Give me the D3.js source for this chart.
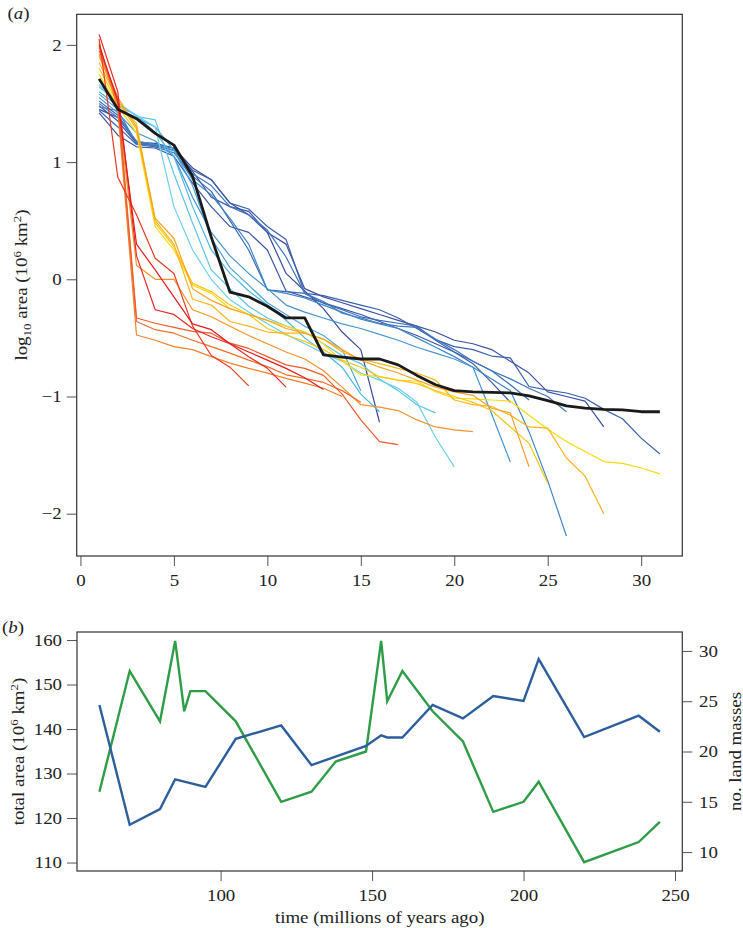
<!DOCTYPE html>
<html><head><meta charset="utf-8">
<script src="https://cdn.jsdelivr.net/npm/d3@7"></script>
<style>body{margin:0;background:#fff}</style>
</head><body>
<svg id="c" width="743" height="928" style="background:#fff"></svg>
<script>
// ---------- Panel (a): log10 area by rank, one line per time slice (Mya) ----------
const r60  = [1.45,1.38,1.17,1.16,1.12,0.95,0.85,0.65,0.55,0.40,0.05,-0.10,-0.25,-0.45,-0.60,-1.22];
const r70  = [1.48,1.35,1.16,1.14,1.10,0.92,0.70,0.62,0.58,0.40,0.30,-0.08,-0.15,-0.20,-0.25,-0.30,-0.35,-0.40,-0.45,-0.52,-0.55,-0.60,-0.70,-0.80,-0.96,-1.00,-1.04,-1.26];
const r80  = [1.42,1.23,1.13,1.12,1.05,0.82,0.62,0.45,0.40,0.25,-0.10,-0.15,-0.20,-0.25,-0.30,-0.36,-0.42,-0.48,-0.55,-0.62,-0.72,-0.88,-1.05];
const r85  = [1.52,1.40,1.17,1.15,1.12,0.93,0.85,0.65,0.60,0.45,0.34,-0.12,-0.14,-0.18,-0.22,-0.26,-0.33,-0.42,-0.515,-0.575,-0.60,-0.655,-0.67,-0.915,-0.945,-0.97,-1.015,-1.11,-1.19,-1.355,-1.49];
const r88  = [1.44,1.30,1.15,1.13,1.08,0.88,0.75,0.50,0.25,-0.09,-0.105,-0.12,-0.205,-0.26,-0.32,-0.35,-0.375,-0.40,-0.52,-0.62,-0.70,-0.78,-0.90,-1.03];
const r90  = [1.47,1.44,1.16,1.14,1.12,0.90,0.80,0.62,0.55,0.42,0.19,-0.12,-0.19,-0.29,-0.33,-0.375,-0.40,-0.41,-0.51,-0.60,-0.70,-0.78,-0.85,-0.93,-1.00,-1.13];
const r95  = [1.50,1.38,1.18,1.15,1.10,0.85,0.72,0.52,0.30,-0.09,-0.12,-0.16,-0.22,-0.28,-0.34,-0.38,-0.42,-0.50,-0.58,-0.66,-0.75,-0.85,-0.95,-1.30,-1.72,-2.19];
const r105 = [1.55,1.42,1.25,1.18,1.05,0.70,0.40,0.20,0.05,-0.08,-0.22,-0.28,-0.33,-0.38,-0.42,-0.47,-0.52,-0.58,-0.63,-0.68,-0.75,-1.15,-1.56];
const r120 = [1.58,1.45,1.38,1.30,1.10,0.80,0.35,0.10,-0.05,-0.20,-0.30,-0.40,-0.48,-0.60,-0.95];
const r130 = [1.60,1.48,1.40,1.25,1.05,0.62,0.25,0.05,-0.10,-0.22,-0.35,-0.50,-0.62,-0.75,-0.98,-1.13];
const r138 = [1.64,1.51,1.39,1.36,0.90,0.48,0.08,-0.08,-0.23,-0.33,-0.40,-0.45,-0.55,-0.65,-0.72,-0.85,-0.95,-1.07,-1.14];
const r148 = [1.66,1.50,1.40,1.30,0.62,0.25,0.00,-0.175,-0.28,-0.38,-0.47,-0.55,-0.63,-0.70,-0.80,-0.86,-0.93,-1.05,-1.35,-1.60];
const r153 = [1.75,1.48,1.25,0.45,0.25,-0.05,-0.12,-0.25,-0.30,-0.35,-0.40,-0.45,-0.55,-0.70,-0.815,-0.83,-0.86,-0.87,-0.96,-1.015,-1.02,-1.03,-1.04,-1.16,-1.28,-1.385,-1.47,-1.555,-1.57,-1.61,-1.66];
const r155 = [1.80,1.50,1.33,0.48,0.28,-0.035,-0.105,-0.22,-0.30,-0.42,-0.475,-0.53,-0.60,-0.69,-0.75,-0.83,-0.86,-0.89,-0.95,-1.00,-1.05,-1.12,-1.26,-1.40,-1.74];
const r160 = [1.85,1.52,1.28,0.50,0.30,-0.17,-0.22,-0.36,-0.40,-0.45,-0.46,-0.46,-0.51,-0.62,-0.68,-0.72,-0.76,-0.80,-0.86,-1.03,-1.07,-1.085,-1.16,-1.26,-1.27,-1.525,-1.68,-2.00];
const r170 = [1.90,1.55,1.30,0.52,0.35,-0.08,-0.18,-0.25,-0.30,-0.35,-0.42,-0.46,-0.51,-0.60,-0.69,-0.75,-0.80,-0.86,-0.92,-0.96,-0.99,-1.10,-1.14,-1.60];
const r180 = [1.92,1.50,0.12,0.00,0.00,-0.26,-0.32,-0.40,-0.48,-0.55,-0.62,-0.68,-0.78,-0.92,-1.07,-1.09,-1.12,-1.20,-1.26,-1.285,-1.30];
const r190 = [2.02,1.45,-0.475,-0.52,-0.575,-0.60,-0.66,-0.715,-0.76,-0.80,-0.845,-0.886,-0.93,-1.00];
const r200 = [1.98,1.50,-0.36,-0.43,-0.46,-0.52,-0.575,-0.63,-0.69,-0.745,-0.815,-0.845,-0.88,-0.95,-1.05];
const r205 = [1.95,1.55,-0.33,-0.375,-0.41,-0.445,-0.46,-0.545,-0.59,-0.66,-0.73,-0.76,-0.82,-0.98,-1.20,-1.385,-1.41];
const r220 = [2.05,0.87,0.55,0.18,0.05,-0.40,-0.65,-0.75,-0.91];
const r238 = [2.09,1.60,0.20,-0.26,-0.30,-0.42,-0.49,-0.55,-0.66,-0.76,-0.92];
const r245 = [2.00,1.52,0.30,0.08,-0.15,-0.38,-0.43,-0.55,-0.62,-0.69,-0.76,-0.84,-0.94];
const rPresent = [1.71,1.45,1.37,1.245,1.145,0.88,0.36,-0.11,-0.15,-0.23,-0.33,-0.33,-0.645,-0.665,-0.68,-0.68,-0.73,-0.82,-0.90,-0.95,-0.96,-0.965,-0.97,-0.995,-1.035,-1.08,-1.10,-1.11,-1.115,-1.13,-1.13];

const sliceSeries = [r60,r70,r80,r85,r88,r90,r95,r105,r120,r130,r138,r148,r153,r155,r160,r170,r180,r190,r200,r205,r220,r238,r245];
const sliceColors = ["#3a4a9e","#3a50a2","#3b56a6","#3b5fac","#3c6ab3","#3d77bc","#3f86c6","#4496d0","#48a6da","#4db6e3","#5cc4eb","#6dcff0",
                     "#fdd90f","#fbc616","#f8b51d","#f6a323","#f39229","#f2802a","#f06e2a","#ee5b2a","#ea3a26","#e52a26","#e31a1c"];
const xTicksA = [0,5,10,15,20,25,30];
const yTicksA = [-2,-1,0,1,2];

// ---------- Panel (b) ----------
const landTimes  = [60,70,80,85,88,90,95,105,120,130,138,148,153,155,160,170,180,190,200,205,220,238,245];
const landMasses = [16,28,23,31,24,26,26,23,15,16,19,20,31,25,28,24,21,14,15,17,9,11,13];
const areaTimes  = [60,70,80,85,88,95,105,120,130,148,153,155,160,170,180,190,200,205,220,238,245];
const totalArea  = [145.4,118.5,122.0,128.7,128.2,127.0,137.8,140.8,131.9,136.2,138.6,138.1,138.1,145.4,142.4,147.4,146.3,155.7,138.2,143.0,139.4];
const xTicksB = [100,150,200,250];
const yTicksBL = [110,120,130,140,150,160];
const yTicksBR = [10,15,20,25,30];

const FONT = "'Liberation Serif','Times New Roman',serif";
const FS = 16, SX = 1.18;
const svg = d3.select('#c');

function styleAxis(g){
  g.select('.domain').remove();
  g.selectAll('.tick line').attr('stroke','#555').attr('stroke-width',1);
  g.selectAll('.tick text').attr('font-family',FONT).attr('font-size',FS).attr('fill','#222')
    .attr('transform',`scale(${SX},1)`);
}
function label(x,y,rot,build){
  const g = svg.append('g').attr('transform',`translate(${x},${y}) rotate(${rot}) scale(${SX},1)`);
  const t = g.append('text').attr('font-family',FONT).attr('font-size',FS).attr('fill','#222')
    .attr('text-anchor','middle').attr('dy','0.35em');
  build(t);
}

// ---- Panel a ----
const xA = d3.scaleLinear().domain([-0.2,32.2]).range([76.7,682.3]);
const yA = d3.scaleLinear().domain([-2.361,2.261]).range([556,14.3]);

const gxA = svg.append('g').attr('transform','translate(0,556)')
  .call(d3.axisBottom(xA).tickValues(xTicksA).tickSize(10).tickFormat(d3.format('d')));
styleAxis(gxA);
gxA.selectAll('.tick text').attr('y',24).attr('dy','0.35em');

const gyA = svg.append('g').attr('transform','translate(76.7,0)')
  .call(d3.axisLeft(yA).tickValues(yTicksA).tickSize(10).tickFormat(d3.format('d')));
styleAxis(gyA);
gyA.selectAll('.tick text').attr('x',-15/SX).attr('dy','0.33em');

const lineA = d3.line().x((d,i)=>xA(i+1)).y(d=>yA(d));
svg.append('g').selectAll('path').data(sliceSeries).join('path')
  .attr('d',lineA).attr('fill','none').attr('stroke',(d,i)=>sliceColors[i])
  .attr('stroke-width',1.2).attr('stroke-linejoin','round');
svg.append('path').datum(rPresent).attr('d',lineA).attr('fill','none')
  .attr('stroke','#1a1a1a').attr('stroke-width',2.8).attr('stroke-linejoin','round');

svg.append('rect').attr('x',xA.range()[0]).attr('y',yA.range()[1])
  .attr('width',xA.range()[1]-xA.range()[0]).attr('height',yA.range()[0]-yA.range()[1])
  .attr('fill','none').attr('stroke','#333').attr('stroke-width',1.2);

label(21,285,-90,t=>{
  t.append('tspan').text('log');
  t.append('tspan').attr('font-size',11).attr('dy',4).text('10');
  t.append('tspan').attr('dy',-4).text(' area (10');
  t.append('tspan').attr('font-size',11).attr('dy',-6).text('6');
  t.append('tspan').attr('dy',6).text(' km');
  t.append('tspan').attr('font-size',11).attr('dy',-6).text('2');
  t.append('tspan').attr('dy',6).text(')');
});
label(18.5,13,0,t=>{
  t.append('tspan').text('(');
  t.append('tspan').attr('font-style','italic').text('a');
  t.append('tspan').text(')');
});

// ---- Panel b ----
const xB  = d3.scaleLinear().domain([52.6,252.4]).range([77,682.3]);
const yBL = d3.scaleLinear().domain([108.1,161.8]).range([871,632]);
const yBR = d3.scaleLinear().domain([8.12,31.88]).range([871,632]);

const gxB = svg.append('g').attr('transform','translate(0,871)')
  .call(d3.axisBottom(xB).tickValues(xTicksB).tickSize(10).tickFormat(d3.format('d')));
styleAxis(gxB);
gxB.selectAll('.tick text').attr('y',24).attr('dy','0.35em');

const gyBL = svg.append('g').attr('transform','translate(77,0)')
  .call(d3.axisLeft(yBL).tickValues(yTicksBL).tickSize(10).tickFormat(d3.format('d')));
styleAxis(gyBL);
gyBL.selectAll('.tick text').attr('x',-15/SX).attr('dy','0.33em');

const gyBR = svg.append('g').attr('transform','translate(682.3,0)')
  .call(d3.axisRight(yBR).tickValues(yTicksBR).tickSize(10).tickFormat(d3.format('d')));
styleAxis(gyBR);
gyBR.selectAll('.tick text').attr('x',16.7/SX).attr('dy','0.33em');

svg.append('path').datum(landTimes.map((t,i)=>[t,landMasses[i]]))
  .attr('d',d3.line().x(d=>xB(d[0])).y(d=>yBR(d[1])))
  .attr('fill','none').attr('stroke','#2f9d47').attr('stroke-width',2.4).attr('stroke-linejoin','miter');
svg.append('path').datum(areaTimes.map((t,i)=>[t,totalArea[i]]))
  .attr('d',d3.line().x(d=>xB(d[0])).y(d=>yBL(d[1])))
  .attr('fill','none').attr('stroke','#2c5e9e').attr('stroke-width',2.4).attr('stroke-linejoin','miter');

svg.append('rect').attr('x',77).attr('y',632).attr('width',682.3-77).attr('height',871-632)
  .attr('fill','none').attr('stroke','#333').attr('stroke-width',1.2);

label(18.3,751.5,-90,t=>{
  t.append('tspan').text('total area (10');
  t.append('tspan').attr('font-size',11).attr('dy',-6).text('6');
  t.append('tspan').attr('dy',6).text(' km');
  t.append('tspan').attr('font-size',11).attr('dy',-6).text('2');
  t.append('tspan').attr('dy',6).text(')');
});
label(735,751.5,-90,t=>t.text('no. land masses'));
label(379.7,917,0,t=>t.text('time (millions of years ago)'));
label(13,627.7,0,t=>{
  t.append('tspan').text('(');
  t.append('tspan').attr('font-style','italic').text('b');
  t.append('tspan').text(')');
});
</script>
</body></html>
